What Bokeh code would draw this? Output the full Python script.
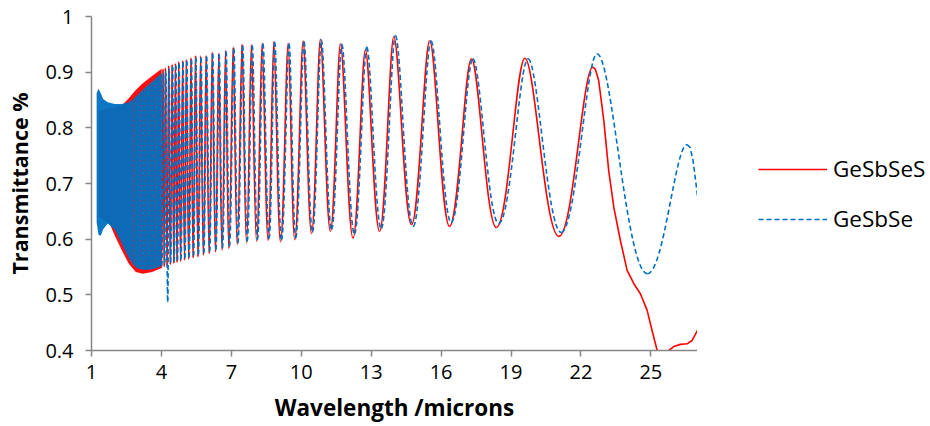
from bokeh.plotting import figure
from bokeh.layouts import row
from bokeh.models import ColumnDataSource, FixedTicker, Legend, LegendItem, Range1d
from bokeh.embed import file_html
from bokeh.resources import INLINE

# ---------------- data ----------------
x_ticks = [1, 4, 7, 10, 13, 16, 19, 22, 25]
y_ticks = [0.4, 0.5, 0.6, 0.7, 0.8, 0.9, 1.0]
y_tick_labels = ["0.4", "0.5", "0.6", "0.7", "0.8", "0.9", "1"]
series_names = ["GeSbSeS", "GeSbSe"]

# dense, unresolved fringe region (1.2 - 4 microns): envelopes of the fringes
red_band_x = [1.30, 1.50, 1.80, 2.00, 2.30, 2.60, 2.90, 3.20, 3.60, 4.01]
red_band_hi = [0.830, 0.832, 0.835, 0.837, 0.840, 0.853, 0.868, 0.880, 0.893, 0.906]
red_band_lo = [0.640, 0.636, 0.626, 0.606, 0.580, 0.556, 0.541, 0.538, 0.541, 0.548]

blue_band_x = [1.22, 1.30, 1.40, 1.50, 1.70, 2.00, 2.30, 2.60, 2.80, 3.00, 3.30, 3.60, 3.90, 4.02]
blue_band_hi = [0.862, 0.870, 0.862, 0.852, 0.846, 0.843, 0.843, 0.846, 0.852, 0.860, 0.872, 0.883, 0.894, 0.898]
blue_band_lo = [0.630, 0.608, 0.606, 0.618, 0.628, 0.617, 0.592, 0.566, 0.553, 0.547, 0.545, 0.546, 0.550, 0.552]

# resolved fringes: successive troughs and peaks (wavelength, transmittance)
red_ext_x = [4.01, 4.07, 4.12, 4.17, 4.24, 4.31, 4.38, 4.46, 4.53, 4.60, 4.67, 4.74, 4.82, 4.91,
             4.99, 5.07, 5.17, 5.27, 5.36, 5.46, 5.57, 5.68, 5.80, 5.92, 6.05, 6.18, 6.32, 6.46,
             6.60, 6.75, 6.89, 7.08, 7.25, 7.46, 7.65, 7.86, 8.08, 8.32, 8.58, 8.82, 9.11, 9.44,
             9.72, 10.08, 10.44, 10.82, 11.25, 11.68, 12.22, 12.75, 13.36, 13.97, 14.73, 15.51,
             16.36, 17.30, 18.37, 19.59, 21.05, 22.51]
red_ext_t = [0.548, 0.906, 0.550, 0.908, 0.552, 0.912, 0.554, 0.914, 0.556, 0.916, 0.558, 0.919, 0.560, 0.921,
             0.562, 0.923, 0.564, 0.926, 0.566, 0.930, 0.568, 0.929, 0.571, 0.930, 0.574, 0.936, 0.577, 0.934,
             0.580, 0.939, 0.583, 0.945, 0.590, 0.950, 0.593, 0.949, 0.596, 0.952, 0.598, 0.955, 0.595, 0.952,
             0.599, 0.956, 0.610, 0.959, 0.614, 0.951, 0.602, 0.940, 0.614, 0.964, 0.626, 0.957,
             0.623, 0.924, 0.621, 0.925, 0.605, 0.909]
red_tail_x = [22.51, 22.62, 22.76, 22.98, 23.19, 23.41, 23.69, 23.98, 24.27, 24.55, 24.84, 25.05,
              25.27, 25.50, 25.77, 25.98, 26.27, 26.55, 26.77, 27.00]
red_tail_t = [0.909, 0.905, 0.885, 0.813, 0.723, 0.657, 0.598, 0.544, 0.520, 0.502, 0.472, 0.436,
              0.400, 0.385, 0.400, 0.407, 0.411, 0.412, 0.418, 0.436]

blue_ext_x = [4.02, 4.09, 4.14, 4.19, 4.27, 4.33, 4.40, 4.48, 4.55, 4.62, 4.69, 4.76, 4.84, 4.93,
              5.01, 5.09, 5.19, 5.29, 5.38, 5.48, 5.59, 5.70, 5.82, 5.94, 6.07, 6.20, 6.34, 6.48,
              6.62, 6.78, 6.92, 7.11, 7.28, 7.49, 7.68, 7.90, 8.12, 8.36, 8.62, 8.86, 9.15, 9.48,
              9.76, 10.12, 10.48, 10.86, 11.30, 11.74, 12.28, 12.81, 13.43, 14.04, 14.80, 15.57,
              16.43, 17.36, 18.47, 19.73, 21.15, 22.69, 24.85, 26.55]
blue_ext_t = [0.552, 0.898, 0.556, 0.902, 0.487, 0.906, 0.558, 0.910, 0.560, 0.912, 0.562, 0.915, 0.564, 0.918,
              0.566, 0.920, 0.568, 0.923, 0.570, 0.927, 0.572, 0.926, 0.575, 0.928, 0.578, 0.934, 0.581, 0.932,
              0.584, 0.937, 0.587, 0.943, 0.593, 0.948, 0.596, 0.948, 0.599, 0.951, 0.601, 0.954, 0.598, 0.951,
              0.602, 0.955, 0.613, 0.958, 0.617, 0.950, 0.609, 0.945, 0.619, 0.966, 0.623, 0.956,
              0.630, 0.924, 0.628, 0.924, 0.612, 0.933, 0.538, 0.770]
blue_tail_x = [26.55, 26.68, 26.81, 26.92, 27.00]
blue_tail_t = [0.770, 0.765, 0.741, 0.705, 0.678]

# ---------------- styling ----------------
RED = "#FF0000"
BLUE = "#0070C0"
AXIS_GREY = "#868686"
FONT = "Open Sans"
RED_STYLE = dict(line_color=RED, line_width=1.6)
BLUE_STYLE = dict(line_color=BLUE, line_width=1.6, line_dash="5 3")


def fringe_source(xs, ts, k_peak=0.30, k_trough=0.42):
    """Cubic Bezier pieces between successive extrema, flat at each extremum."""
    x0, x1 = xs[:-1], xs[1:]
    y0, y1 = ts[:-1], ts[1:]
    cx0, cx1 = [], []
    for a, b, ya, yb in zip(x0, x1, y0, y1):
        d = b - a
        ka = k_peak if ya > yb else k_trough
        kb = k_peak if yb > ya else k_trough
        cx0.append(a + ka * d)
        cx1.append(b - kb * d)
    return ColumnDataSource(dict(x0=x0, y0=y0, x1=x1, y1=y1, cx0=cx0, cy0=y0, cx1=cx1, cy1=y1))


# ---------------- main chart ----------------
p = figure(width=697, height=426, output_backend="svg", toolbar_location=None,
           x_range=Range1d(1, 27), y_range=Range1d(0.4, 1.0),
           min_border_left=91, min_border_right=0, min_border_top=16, min_border_bottom=76)
p.outline_line_color = None
p.xgrid.visible = False
p.ygrid.visible = False
p.background_fill_color = "white"
p.border_fill_color = "white"

# GeSbSeS (red, solid)
p.varea(x=red_band_x, y1=red_band_lo, y2=red_band_hi, fill_color=RED, fill_alpha=0.95)
p.bezier(x0="x0", y0="y0", x1="x1", y1="y1", cx0="cx0", cy0="cy0", cx1="cx1", cy1="cy1",
         source=fringe_source(red_ext_x, red_ext_t), **RED_STYLE)
p.line(red_tail_x, red_tail_t, **RED_STYLE)

# GeSbSe (blue, dashed)
split = 8  # index in blue_band_x where the fringes start to separate visibly
p.varea(x=blue_band_x[:split + 1], y1=blue_band_lo[:split + 1], y2=blue_band_hi[:split + 1],
        fill_color=BLUE, fill_alpha=0.95)
p.varea(x=blue_band_x[split:], y1=blue_band_lo[split:], y2=blue_band_hi[split:],
        fill_color=BLUE, fill_alpha=0.55, hatch_pattern="/", hatch_color=BLUE,
        hatch_scale=5, hatch_weight=2)
p.bezier(x0="x0", y0="y0", x1="x1", y1="y1", cx0="cx0", cy0="cy0", cx1="cx1", cy1="cy1",
         source=fringe_source(blue_ext_x, blue_ext_t), **BLUE_STYLE)
p.line(blue_tail_x, blue_tail_t, **BLUE_STYLE)

# axes
for ax in (p.xaxis[0], p.yaxis[0]):
    ax.axis_line_color = AXIS_GREY
    ax.axis_line_width = 1.5
    ax.major_tick_line_color = AXIS_GREY
    ax.major_tick_line_width = 1.5
    ax.major_tick_in = 0
    ax.major_tick_out = 6
    ax.minor_tick_line_color = None
    ax.major_label_text_font = FONT
    ax.major_label_text_font_size = "20px"
    ax.major_label_text_color = "black"
    ax.axis_label_text_font = FONT
    ax.axis_label_text_font_style = "bold"
    ax.axis_label_text_color = "black"

p.xaxis.ticker = FixedTicker(ticks=x_ticks)
p.yaxis.ticker = FixedTicker(ticks=y_ticks)
p.yaxis.major_label_overrides = dict(zip(y_ticks, y_tick_labels))
p.xaxis.major_label_standoff = 8
p.yaxis.major_label_standoff = 12

p.xaxis.axis_label = "Wavelength /microns"
p.xaxis.axis_label_text_font_size = "22.5px"
p.xaxis.axis_label_standoff = 10

p.yaxis.axis_label = "Transmittance %"
p.yaxis.axis_label_text_font_size = "21.5px"
p.yaxis.axis_label_standoff = 8

# ---------------- legend panel (right of the chart) ----------------
# its frame is aligned with the chart's frame; the key renderers reuse the series
# data, which lies outside this panel's ranges, so only the legend shows.
lg = figure(width=233, height=426, output_backend="svg", toolbar_location=None,
            x_range=Range1d(0, 1), y_range=Range1d(0, 1), x_axis_type=None, y_axis_type=None,
            min_border=0)
lg.outline_line_color = None
lg.xgrid.visible = False
lg.ygrid.visible = False
lg.background_fill_color = "white"
lg.border_fill_color = "white"
key_red = lg.line(red_tail_x, red_tail_t, **RED_STYLE)
key_blue = lg.line(blue_tail_x, blue_tail_t, **BLUE_STYLE)

legend = Legend(items=[LegendItem(label=series_names[0], renderers=[key_red]),
                       LegendItem(label=series_names[1], renderers=[key_blue])],
                location=(61, 116), padding=0, margin=0, spacing=19,
                glyph_width=69, glyph_height=28, label_height=28, label_standoff=6,
                label_text_font=FONT, label_text_font_size="22.5px", label_text_color="black",
                border_line_color=None, background_fill_alpha=0)
lg.add_layout(legend, "center")

layout = row(p, lg, spacing=0)
open("out.html", "w").write(file_html(layout, INLINE))
